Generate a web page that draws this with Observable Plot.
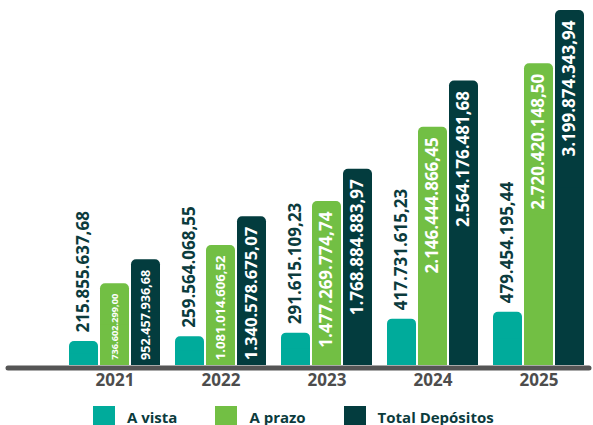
<!DOCTYPE html>
<html>
<head>
<meta charset="utf-8">
<script src="https://cdn.jsdelivr.net/npm/d3@7"></script>
<script src="https://cdn.jsdelivr.net/npm/@observablehq/plot@0.6"></script>
<style>
  html, body { margin: 0; padding: 0; background: #fff; }
  body { width: 593px; height: 425px; overflow: hidden; font-family: "Open Sans", sans-serif; }
  #legend { display: flex; gap: 38px; padding-left: 93px; padding-top: 8px; height: 27px; box-sizing: border-box; }
  .item { display: flex; align-items: flex-start; gap: 12px; font-weight: 700; font-size: 15px; color: #0b3b3d; line-height: 22px; }
  .sw { width: 22px; height: 22px; flex: none; }
</style>
</head>
<body>
<div id="chart"></div>
<div id="legend"></div>
<script>
const years = ["2021", "2022", "2023", "2024", "2025"];
const series = ["A vista", "A prazo", "Total Depósitos"];
const aVista = [215855637.68, 259564068.55, 291615109.23, 417731615.23, 479454195.44];
const aPrazo = [736602299.00, 1081014606.52, 1477269774.74, 2146444866.45, 2720420148.50];
const totalDepositos = [952457936.68, 1340578675.07, 1768884883.97, 2564176481.68, 3199874343.94];
const colors = ["#00ab9b", "#72bf44", "#033c3e"];

const valuesBySeries = [aVista, aPrazo, totalDepositos];
const data = [];
years.forEach((y, i) => series.forEach((s, j) => data.push({year: y, series: s, value: valuesBySeries[j][i]})));

const fmt = d3.formatLocale({decimal: ",", thousands: ".", grouping: [3], currency: ["", ""]}).format(",.2f");

const W = 593, H = 398, MT = 10, MB = 33;
const plotH = H - MT - MB;
const ymax = d3.max(totalDepositos);
function fitSize(d) {
  const s = fmt(d.value);
  const digits = (s.match(/\d/g) || []).length;
  const punct = s.length - digits;
  const em = digits * 0.572 + punct * 0.27;
  const h = d.value / ymax * plotH - 16;
  return Math.max(8, Math.min(17, h / em));
}

const inside = data.filter(d => d.series !== "A vista");
const above = data.filter(d => d.series === "A vista");

const chart = Plot.plot({
  width: W, height: H,
  marginTop: MT, marginBottom: MB, marginLeft: 62, marginRight: 2,
  style: {fontFamily: "'Open Sans', sans-serif", background: "transparent"},
  fx: {domain: years, paddingInner: 0.12, paddingOuter: 0.055, label: null},
  x: {domain: series, paddingInner: 0.08, paddingOuter: 0, axis: null},
  y: {domain: [0, ymax], axis: null},
  color: {domain: series, range: colors},
  marks: [
    Plot.barY(data, {fx: "year", x: "series", y: "value", fill: "series", rx: 5}),
    Plot.barY(data, {fx: "year", x: "series", y1: 0, y2: d => d.value / 2, fill: "series"}),
    Plot.text(inside, {fx: "year", x: "series", y: "value", text: d => fmt(d.value), rotate: -90, textAnchor: "end", lineAnchor: "middle", dy: 10, fill: "white", fontWeight: "bold", fontSize: fitSize}),
    Plot.text(above, {fx: "year", x: "series", y: "value", text: d => fmt(d.value), rotate: -90, textAnchor: "start", lineAnchor: "middle", dy: -9, fill: "#0b3b3d", fontWeight: "bold", fontSize: 17}),
    Plot.axisFx({anchor: "bottom", tickSize: 0, tickPadding: 8, fontSize: 17, fontWeight: "bold", fill: "#4d4d4d", label: null})
  ]
});
document.getElementById("chart").appendChild(chart);

// baseline rule across the full width, positioned with the chart's own y scale
const y0 = chart.scale("y").apply(0) + 3;
d3.select(chart).append("line")
  .attr("x1", 8).attr("x2", W - 4)
  .attr("y1", y0).attr("y2", y0)
  .attr("stroke", "#555555").attr("stroke-width", 5).attr("stroke-linecap", "round");

const legend = document.getElementById("legend");
series.forEach((s, i) => {
  const item = document.createElement("div");
  item.className = "item";
  const sw = document.createElement("div");
  sw.className = "sw";
  sw.style.background = colors[i];
  const t = document.createElement("span");
  t.textContent = s;
  item.appendChild(sw);
  item.appendChild(t);
  legend.appendChild(item);
});
</script>
</body>
</html>
